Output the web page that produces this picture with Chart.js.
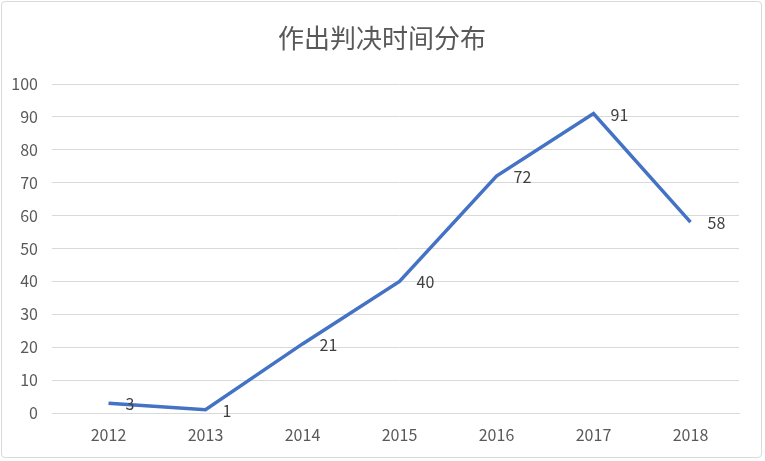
<!DOCTYPE html>
<html><head><meta charset="utf-8">
<script src="https://cdn.jsdelivr.net/npm/chart.js@4"></script>
<style>html,body{margin:0;padding:0;background:#fff}#w{position:relative;width:765px;height:461px}
#b{position:absolute;left:1px;top:1px;width:761px;height:457px;border:1px solid #d9d9d9;border-radius:4px;box-sizing:border-box;pointer-events:none}</style>
</head><body><div id="w"><canvas id="c" width="765" height="461"></canvas><div id="b"></div></div>
<script>
const categories = ["2012","2013","2014","2015","2016","2017","2018"];
const values = [3,1,21,40,72,91,58];
const titleText = "作出判决时间分布";
const font = "'Noto Sans CJK SC', 'Noto Sans', sans-serif";
const labelsPlugin = {
  id:'lbl',
  afterDatasetsDraw(chart){
    const ctx=chart.ctx, meta=chart.getDatasetMeta(0);
    ctx.save(); ctx.font="16px "+font; ctx.fillStyle="#404040"; ctx.textBaseline="middle"; ctx.textAlign="left";
    meta.data.forEach((p,i)=>ctx.fillText(String(values[i]), p.x+17, p.y+1));
    ctx.font="26px "+font; ctx.fillStyle="#595959"; ctx.textAlign="center";
    ctx.fillText(titleText, 382, 38);
    ctx.restore();
  }
};
new Chart(document.getElementById('c'),{
  type:'line',
  data:{labels:categories,datasets:[{data:values,borderColor:'#4472C4',borderWidth:3.5,pointRadius:0,tension:0,fill:false}]},
  options:{responsive:false,animation:false,
    layout:{padding:{top:84,right:26,left:0,bottom:0}},
    plugins:{legend:{display:false},title:{display:false},tooltip:{enabled:false}},
    scales:{
      x:{offset:true,grid:{display:false},border:{color:'#d9d9d9'},
        ticks:{color:'#595959',font:{size:16,family:font},padding:4},
        afterFit(s){s.height=48;}},
      y:{min:0,max:100,ticks:{stepSize:10,color:'#595959',font:{size:16,family:font},padding:14},
        grid:{color:'#d9d9d9'},border:{display:false},
        afterFit(s){s.width=60;}}
    }},
  plugins:[labelsPlugin]
});
</script></body></html>
